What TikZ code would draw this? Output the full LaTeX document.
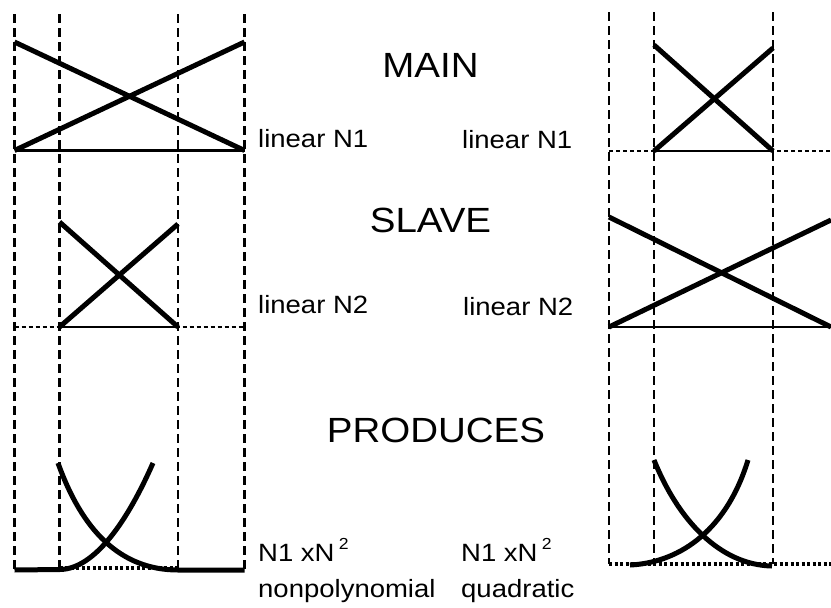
\documentclass[tikz,border=0pt]{standalone}
\usepackage{fontspec}
\setmainfont{Liberation Sans}[FakeStretch=1.1]
\begin{document}
\begin{tikzpicture}[x=1pt,y=-1pt,
  guide/.style={line width=2.5pt, dash pattern=on 9pt off 5pt},
  fine/.style={line width=2.2pt, dash pattern=on 4pt off 3pt},
  floor/.style={line width=3.2pt, dash pattern=on 3pt off 2.5pt},
  base/.style={line width=2.8pt},
  heavy/.style={line width=5pt},
  heading/.style={font=\fontsize{35}{38}\selectfont, inner sep=0pt, anchor=base},
  tag/.style={font=\fontsize{25}{27}\selectfont, inner sep=0pt, anchor=base west}]
\useasboundingbox (0,0) rectangle (831,608);

% ---------- headings ----------
\node[heading] (main) at (430.5,77) {MAIN};
\node[heading] (slave) at (430.5,232) {SLAVE};
\node[heading] (produces) at (436,442) {PRODUCES};

% ---------- side labels ----------
\node[tag] (lin1l) at (258,147) {linear N1};
\node[tag] (lin1r) at (462,148) {linear N1};
\node[tag] (lin2l) at (258,313) {linear N2};
\node[tag] (lin2r) at (463,315) {linear N2};
\node[tag] (powl) at (258,561) {N1 xN\,\raisebox{0.45em}{\fontsize{16}{16}\selectfont 2}};
\node[tag] (nonp) at (258,597) {nonpolynomial};
\node[tag] (powr) at (461,561) {N1 xN\,\raisebox{0.45em}{\fontsize{16}{16}\selectfont 2}};
\node[tag] (quad) at (461,597) {quadratic};

% ---------- left column: guide lines ----------
\coordinate (LAt) at (14.5,14);  \coordinate (LAb) at (14.5,570);
\coordinate (LBt) at (59.5,14);  \coordinate (LBb) at (59.5,570);
\coordinate (LCt) at (178,14);   \coordinate (LCb) at (178,570);
\coordinate (LDt) at (244.5,14); \coordinate (LDb) at (244.5,570);
\draw[guide] (LAt) -- (LAb);
\draw[guide] (LBt) -- (LBb);
\draw[guide] (LCt) -- (LCb);
\draw[guide] (LDt) -- (LDb);

% left: wide hat functions
\coordinate (L1ul) at (14.5,42);   \coordinate (L1ur) at (244.5,42);
\coordinate (L1dl) at (14.5,150.5);\coordinate (L1dr) at (244.5,150.5);
\draw[base] (L1dl) -- (L1dr);
\draw[heavy] (L1ul) -- (L1dr);
\draw[heavy] (L1dl) -- (L1ur);

% left: narrow hat functions
\coordinate (L2ul) at (59.5,222);  \coordinate (L2ur) at (178,224);
\coordinate (L2dl) at (59.5,327);  \coordinate (L2dr) at (178,327);
\coordinate (L2el) at (14.5,327);  \coordinate (L2er) at (244.5,327);
\draw[fine] (L2el) -- (L2er);
\draw[base] (L2dl) -- (L2dr);
\draw[heavy] (L2ul) -- (L2dr);
\draw[heavy] (L2dl) -- (L2ur);

% left: product curves
\coordinate (L3fl) at (59.5,568); \coordinate (L3fr) at (178,568);
\draw[floor] (L3fl) -- (L3fr);
\coordinate (L3a) at (14.5,570); \coordinate (L3b) at (60,569.5);
\coordinate (L3c) at (153,463);
\draw[heavy] (L3a) -- (L3b) .. controls (95,569) and (128,520) .. (L3c);
\coordinate (L3d) at (58,463); \coordinate (L3e) at (178,570);
\coordinate (L3f) at (244.5,570);
\draw[heavy] (L3d) .. controls (82,530) and (120,570) .. (L3e) -- (L3f);

% ---------- right column: guide lines ----------
\coordinate (RAt) at (609,12); \coordinate (RAb) at (609,564);
\coordinate (RBt) at (654,12); \coordinate (RBb) at (654,564);
\coordinate (RCt) at (773,12); \coordinate (RCb) at (773,564);
\draw[guide] (RAt) -- (RAb);
\draw[guide] (RBt) -- (RBb);
\draw[guide] (RCt) -- (RCb);

% right: narrow hat functions
\coordinate (R1ul) at (654,45);    \coordinate (R1ur) at (773,48);
\coordinate (R1dl) at (654,151);   \coordinate (R1dr) at (773,151);
\coordinate (R1el) at (609,151);   \coordinate (R1er) at (831,151);
\draw[fine] (R1el) -- (R1er);
\draw[base] (R1dl) -- (R1dr);
\draw[heavy] (R1ul) -- (R1dr);
\draw[heavy] (R1dl) -- (R1ur);

% right: wide hat functions
\coordinate (R2ul) at (609,217);   \coordinate (R2ur) at (831,220);
\coordinate (R2dl) at (609,327);   \coordinate (R2dr) at (831,327);
\draw[base] (R2dl) -- (R2dr);
\draw[heavy] (R2ul) -- (R2dr);
\draw[heavy] (R2dl) -- (R2ur);

% right: product curves
\coordinate (R3fl) at (609,564); \coordinate (R3fr) at (831,564);
\draw[floor] (R3fl) -- (R3fr);
\coordinate (R3a) at (630,565); \coordinate (R3b) at (748,460);
\draw[heavy] (R3a) .. controls (675,563) and (725,535) .. (R3b);
\coordinate (R3c) at (654,460); \coordinate (R3d) at (772,566);
\draw[heavy] (R3c) .. controls (678,520) and (720,565) .. (R3d);
\end{tikzpicture}
\end{document}
